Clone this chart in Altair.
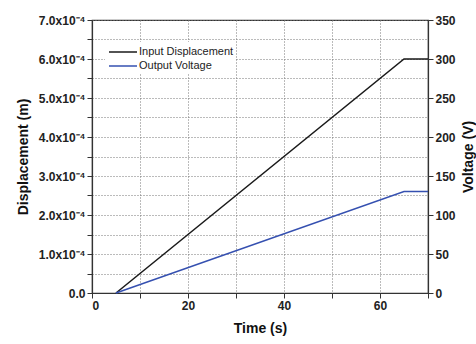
import altair as alt
import pandas as pd

# Ramp test: input displacement and the resulting output voltage over time
time_s = [5, 65, 70]
displacement_m = [0.0, 6.0e-4, 6.0e-4]
voltage_v = [0, 130, 130]
series_names = ["Input Displacement", "Output Voltage"]
series_colors = ["#1a1a1a", "#3550b0"]

df = pd.DataFrame({"t": time_s, "disp": displacement_m, "volt": voltage_v})

x_vals = list(range(0, 71, 10))
disp_vals = [i * 0.5e-4 for i in range(15)]
volt_vals = list(range(0, 351, 50))

FONT = "Liberation Sans"

x_enc = alt.X(
    "t:Q",
    scale=alt.Scale(domain=[0, 70], nice=False),
    axis=alt.Axis(
        title="Time (s)",
        values=x_vals,
        labelExpr="datum.value % 20 == 0 && datum.value < 70 ? datum.label : ''",
        grid=True,
        gridDash=[1, 2],
        gridColor="#777",
        titlePadding=10,
    ),
)

color_scale = alt.Scale(domain=series_names, range=series_colors)

disp_line = alt.Chart(df).mark_line(strokeWidth=1.5).encode(
    x=x_enc,
    y=alt.Y(
        "disp:Q",
        scale=alt.Scale(domain=[0, 7e-4], nice=False),
        axis=alt.Axis(
            title="Displacement (m)",
            values=disp_vals,
            labelExpr=(
                "round(datum.value*2e4) % 2 == 1 ? '' : "
                "(datum.value == 0 ? '0.0' : format(datum.value*1e4, '.1f') + 'x10\u207b\u2074')"
            ),
            grid=True,
            gridDash=[1, 2],
            gridColor="#777",
            titlePadding=8,
        ),
    ),
    color=alt.Color(
        "s:N",
        scale=color_scale,
        legend=alt.Legend(
            title=None,
            orient="none",
            legendX=13,
            legendY=22,
            symbolType="M-2,0H2",
            symbolSize=196,
            symbolStrokeWidth=1.5,
            symbolOffset=8,
            labelFontSize=11,
            labelFontWeight="normal",
            labelColor="#222",
            labelOffset=8,
            fillColor="white",
            padding=2,
            rowPadding=1,
        ),
    ),
).transform_calculate(s="'Input Displacement'")

volt_line = alt.Chart(df).mark_line(strokeWidth=1.5).encode(
    x=x_enc,
    y=alt.Y(
        "volt:Q",
        scale=alt.Scale(domain=[0, 350], nice=False),
        axis=alt.Axis(
            title="Voltage (V)",
            orient="right",
            values=volt_vals,
            grid=False,
            titleAngle=270,
            titlePadding=20,
        ),
    ),
    color=alt.Color("s:N", scale=color_scale),
).transform_calculate(s="'Output Voltage'")

chart = (
    alt.layer(disp_line, volt_line)
    .resolve_scale(y="independent")
    .properties(
        width=336,
        height=273,
        autosize=alt.AutoSizeParams(type="none"),
        padding={"left": 92, "top": 20, "right": 48, "bottom": 51},
    )
    .configure(font=FONT)
    .configure_view(stroke="#333", strokeWidth=1.2)
    .configure_axis(
        domainColor="#333",
        domainWidth=1.2,
        tickColor="#333",
        tickSize=5,
        labelFont=FONT,
        labelFontSize=12,
        labelFontWeight="bold",
        labelColor="#222",
        titleFont=FONT,
        titleFontSize=14,
        titleFontWeight="bold",
        titleColor="#111",
    )
    .configure_legend(labelFont=FONT)
)

chart.save("out.html", embed_options={"renderer": "svg", "actions": False})
